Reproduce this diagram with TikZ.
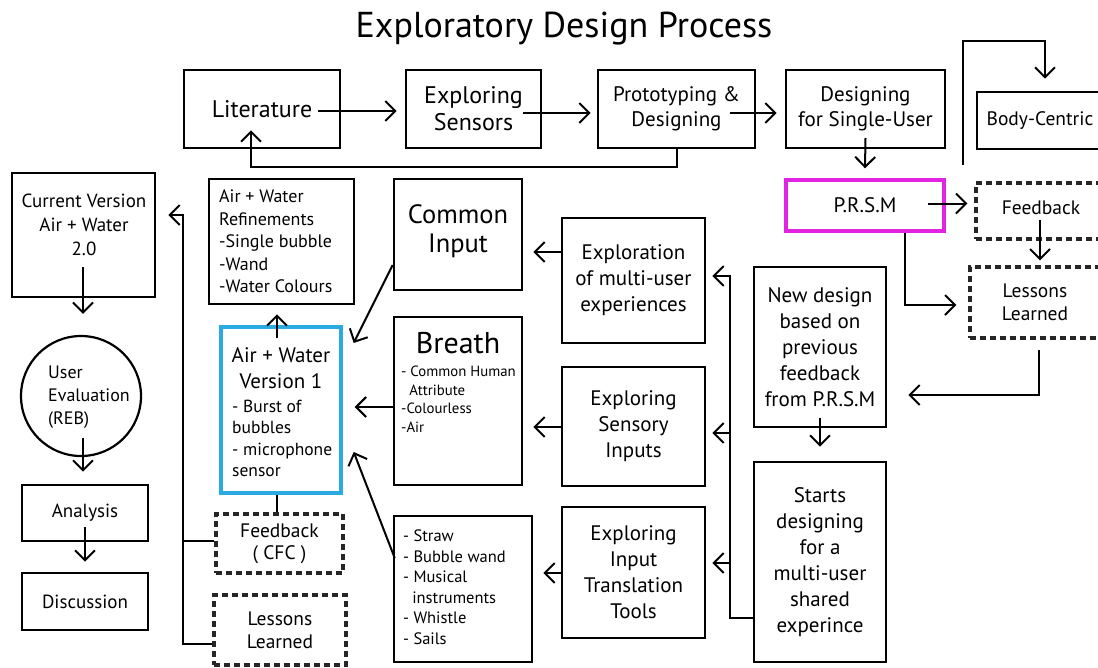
\documentclass[tikz,border=0pt]{standalone}
\usepackage{fontspec}
\setmainfont{PT Sans}
\usetikzlibrary{arrows.meta,calc}
\newcommand{\fsz}[2]{\fontsize{#1pt}{#2pt}\selectfont}
\definecolor{prsmc}{RGB}{226,36,226}
\definecolor{vonec}{RGB}{41,171,226}
\begin{document}
\begin{tikzpicture}[x=1pt,y=-1pt,
  box/.style={draw, line width=2.6pt, inner sep=0pt, align=center},
  dbox/.style={draw=black!85, line width=3.2pt, dash pattern=on 6pt off 4pt, inner sep=0pt, align=center, text=black},
  arr/.style={line width=2pt, -{Straight Barb[length=10pt,width=20pt]}},
  ln/.style={line width=2pt},
  txt/.style={inner sep=0pt, align=left, anchor=north west},
  ctxt/.style={inner sep=0pt, align=center},
]
\clip (0,0) rectangle (1098,667);
\node[ctxt, font=\fsz{36}{44}] (title) at (564,29) {Exploratory Design Process};

% top row
\node[box, minimum width=156pt, minimum height=78pt, font=\fsz{24}{27}] (lit) at (262,109) {Literature};
\node[box, minimum width=135pt, minimum height=78pt, font=\fsz{24}{27}] (es) at (473.5,109) {Exploring\\Sensors};
\node[box, minimum width=157pt, minimum height=78pt, font=\fsz{21}{25}] (pd) at (676.5,109) {Prototyping \&\\Designing};
\node[box, minimum width=159pt, minimum height=78pt, font=\fsz{21}{25}] (dsu) at (865.5,109) {Designing\\for Single-User};
\node[box, minimum width=126pt, minimum height=57pt, font=\fsz{19.5}{23}] (bc) at (1040,120.5) {Body-Centric};
\node[box, draw=prsmc, line width=3.4pt, minimum width=158pt, minimum height=51pt, font=\fsz{21}{25}] (prsm) at (865,205.5) {P.R.S.M};
\node[dbox, minimum width=130pt, minimum height=56pt] (fbr) at (1041,211) {};
\node[ctxt, font=\fsz{19.5}{23}] (fbrtext) at (1041,208) {Feedback};
\node[dbox, minimum width=130pt, minimum height=71pt, font=\fsz{19.5}{22.5}] (llr) at (1035,302.5) {Lessons\\Learned};

% right column
\node[box, minimum width=132pt, minimum height=160pt, font=\fsz{21}{26}] (nd) at (820,347) {New design\\based on\\previous\\feedback\\from P.R.S.M};
\node[box, minimum width=132pt, minimum height=200pt, font=\fsz{21}{26}] (sd) at (820,562) {Starts\\designing\\for a\\multi-user\\shared\\experince};

% exploration column
\node[box, minimum width=143pt, minimum height=125pt, font=\fsz{21}{26}] (expl) at (633.5,280.5) {Exploration\\of multi-user\\experiences};
\node[box, minimum width=143pt, minimum height=119pt, font=\fsz{21}{26}] (esi) at (633.5,426.5) {Exploring\\Sensory\\Inputs};
\node[box, minimum width=143pt, minimum height=131pt, font=\fsz{21}{26}] (eitt) at (633.5,572.5) {Exploring\\Input\\Translation\\Tools};

% input column
\node[box, minimum width=128pt, minimum height=111pt] (ci) at (458,234.5) {};
\node[ctxt, font=\fsz{26.5}{29.5}] (citext) at (458,231) {Common\\Input};
\node[box, minimum width=128pt, minimum height=168pt] (br) at (458,401) {};
\node[ctxt, font=\fsz{30}{34}] (brtitle) at (458,343) {Breath};
\node[txt, font=\fsz{14.8}{18.5}] (brlist) at (401,366) {- Common Human\\\hspace*{0.55em}Attribute\\-Colourless\\-Air};
\node[box, minimum width=138pt, minimum height=146pt] (tl) at (463,589) {};
\node[txt, font=\fsz{16.5}{20.5}] (tllist) at (403,530) {- Straw\\- Bubble wand\\- Musical\\\hspace*{0.55em}instruments\\- Whistle\\- Sails};

% air + water column
\node[box, minimum width=145pt, minimum height=125pt] (awr) at (281.5,241.5) {};
\node[txt, font=\fsz{18}{22.5}] (awrtext) at (219,189.5) {Air + Water\\Refinements\\-Single bubble\\-Wand\\-Water Colours};
\node[box, draw=vonec, line width=3.4pt, minimum width=120pt, minimum height=166pt] (v1) at (281,410) {};
\node[ctxt, anchor=north, font=\fsz{21}{26}] (v1head) at (281,347) {Air + Water\\Version 1};
\node[txt, font=\fsz{17.5}{21.5}] (v1list) at (232,399.5) {- Burst of\\bubbles\\- microphone\\sensor};
\node[dbox, minimum width=127pt, minimum height=59pt, font=\fsz{19.5}{22}] (fcfc) at (279.5,543.5) {Feedback\\( CFC )};
\node[dbox, minimum width=132pt, minimum height=70pt, font=\fsz{19.5}{23}] (lll) at (280,630) {Lessons\\Learned};

% left column
\node[box, minimum width=143pt, minimum height=124pt] (cv) at (83.5,235) {};
\node[ctxt, anchor=north, font=\fsz{19}{24}] (cvtext) at (84,194) {Current Version\\Air + Water\\2.0};
\node[draw, circle, line width=2.2pt, minimum size=120pt, inner sep=0pt] (ue) at (81,396) {};
\node[txt, font=\fsz{18}{23}] (uetext) at (48,366) {User\\Evaluation\\(REB)};
\node[box, minimum width=126pt, minimum height=56pt, font=\fsz{19}{23}] (an) at (85,513) {Analysis};
\node[box, minimum width=126pt, minimum height=57pt, font=\fsz{19}{23}] (di) at (85,601.5) {Discussion};

% connectors: top row
\draw[arr] ($(lit.center)+(56,2)$) -- ($(es.west)+(-8,2)$);
\draw[arr] ($(es.center)+(49,4)$) -- ($(pd.west)+(-6,4)$);
\draw[arr] ($(pd.center)+(53,4)$) -- ($(dsu.west)+(-8,4)$);
\draw[arr] (pd.south) -- ++(0,18) -| ($(lit.south)+(-11,-19)$);
\draw[arr] ($(dsu.center)+(0,29)$) -- ($(prsm.north)+(0,-10)$);
\draw[arr] ($(bc.west)+(-13,44.5)$) -- ++(0,-124) -| ($(bc.north)+(5,-12)$);

% PRSM area
\draw[arr] ($(prsm.center)+(63,-2)$) -- ($(prsm.center -| fbr.west)+(-7,-2)$);
\draw[arr] ($(fbr.center)+(-1,9)$) -- ($(llr.north)+(5,-5)$);
\draw[arr] ($(prsm.south)+(40,0)$) |- ($(llr.west)+(-12,2.5)$);
\draw[arr] ($(llr.south)+(4,10)$) |- ($(nd.east)+(21,48)$);
\draw[arr] ($(nd.south)+(0,-10)$) -- ($(sd.north)+(0,-14)$);

% trunk
\coordinate (tk) at ($(sd.west)+(-23,56)$);
\draw[arr] ($(sd.west)+(0,56)$) -- (tk) |- ($(expl.east)+(6,-4.5)$);
\draw[arr] ($(tk |- esi.east)+(0,6.5)$) -- ($(esi.east)+(6,6.5)$);
\draw[arr] ($(tk |- eitt.east)+(0,-9.5)$) -- ($(eitt.east)+(6,-9.5)$);

% exploration -> inputs
\draw[arr] ($(expl.west)+(0,-28.5)$) -- ($(ci.east)+(10,17.5)$);
\draw[arr] ($(esi.west)+(0,0.5)$) -- ($(br.east)+(10,26)$);
\draw[arr] ($(eitt.west)+(0,0.5)$) -- ($(tl.east)+(10,-16)$);

% inputs -> version 1
\draw[arr] ($(ci.west)+(0,30.5)$) -- ($(v1.east)+(11,-67)$);
\draw[arr] ($(br.west)+(2,6)$) -- ($(v1.east)+(12,-3)$);
\draw[arr] ($(tl.west)+(2,-31)$) -- ($(v1.east)+(11,42)$);
\draw[arr] ($(v1.north)+(-4,13)$) -- ($(awr.south)+(-4.5,9)$);
\draw[ln] ($(v1.south)+(-4,0)$) -- ($(fcfc.north)+(-2.5,0)$);

% left trunk
\draw[arr] ($(lll.west)+(0,14)$) -- ++(-29,0) |- ($(cv.east)+(12,-20)$);
\draw[ln] ($(fcfc.west)+(0,-2.5)$) -- ++(-31,0);

% left column
\draw[arr] ($(cv.center)+(-0.5,32)$) -- ($(ue.north)+(2,-21)$);
\draw[arr] ($(ue.south)+(2,-19)$) -- ($(an.north)+(-2,-12)$);
\draw[arr] ($(an.center)+(0,14)$) -- ($(di.north)+(0,-10)$);
\end{tikzpicture}
\end{document}
